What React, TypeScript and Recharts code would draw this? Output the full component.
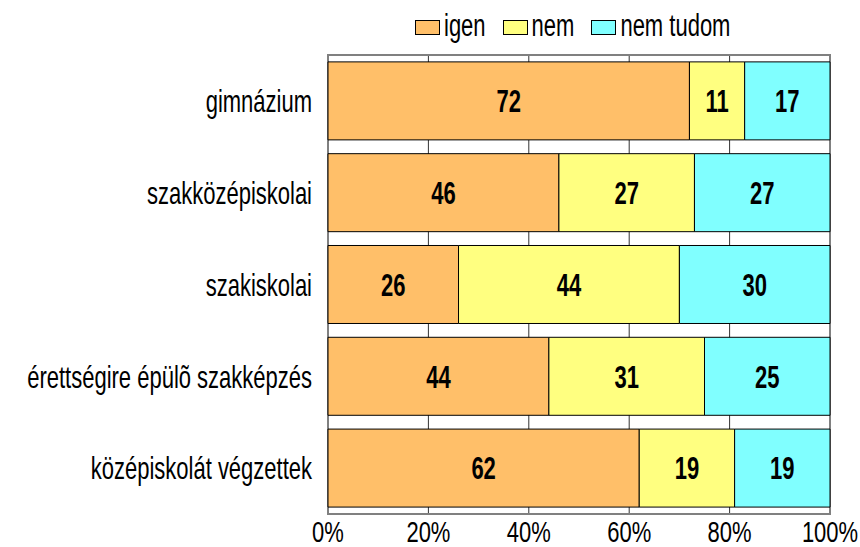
import React from "react";
import { BarChart, Bar, XAxis, YAxis, CartesianGrid, LabelList, ReferenceArea } from "recharts";

const categories = ["gimnázium", "szakközépiskolai", "szakiskolai", "érettségire épülõ szakképzés", "középiskolát végzettek"];
const igen = [72, 46, 26, 44, 62];
const nem = [11, 27, 44, 31, 19];
const nemTudom = [17, 27, 30, 25, 19];
const xTicks = [0, 20, 40, 60, 80, 100];

const seriesNames = ["igen", "nem", "nem tudom"];
const seriesColors = ["#FFBF69", "#FFFF80", "#80FFFF"];

const data = categories.map((c, i) => ({ name: c, igen: igen[i], nem: nem[i], nemTudom: nemTudom[i] }));

const FONT = "'Liberation Sans', Arial, sans-serif";
const SY = 1.4;

const YTick = (props: any) => {
  const { x, y, payload } = props;
  return (
    <g transform={`translate(${x},${y + 1}) scale(1,${SY})`}>
      <text x={0} y={0} textAnchor="end" dominantBaseline="central" fontSize={22} fontFamily={FONT} fill="#000">
        {payload.value}
      </text>
    </g>
  );
};

const XTick = (props: any) => {
  const { x, y, payload } = props;
  return (
    <g transform={`translate(${x},${y + 18}) scale(1,1.3)`}>
      <text x={0} y={0} textAnchor="middle" dominantBaseline="central" fontSize={22} fontFamily={FONT} fill="#000">
        {`${payload.value}%`}
      </text>
    </g>
  );
};

const BarLabel = (props: any) => {
  const { x, y, width, height, value } = props;
  const cx = x + width / 2;
  const cy = y + height / 2;
  return (
    <g transform={`translate(${cx},${cy + 1}) scale(1,${SY})`}>
      <text x={0} y={0} textAnchor="middle" dominantBaseline="central" fontSize={22} fontWeight="bold" fontFamily={FONT} fill="#000">
        {value}
      </text>
    </g>
  );
};

const LegendBox = () => (
  <div style={{ position: "absolute", left: 415, top: 16, display: "flex", alignItems: "center", fontFamily: FONT, fontSize: 22, color: "#000" }}>
    {seriesNames.map((n, i) => (
      <div key={n} style={{ display: "flex", alignItems: "center", marginRight: i < 2 ? 17 : 0 }}>
        <div style={{ width: 23, height: 13, background: seriesColors[i], border: "1px solid #000", marginRight: 4 }} />
        <span style={{ display: "inline-block", lineHeight: "22px", transform: `scaleY(${SY})`, transformOrigin: "50% 60%" }}>{n}</span>
      </div>
    ))}
  </div>
);

export default function App() {
  return (
    <div style={{ position: "absolute", left: 0, top: 0, width: 860, height: 547 }}>
      <BarChart
        width={860}
        height={547}
        data={data}
        layout="vertical"
        margin={{ top: 55, right: 30, bottom: 0, left: 0 }}
        barCategoryGap="7.5%"
      >
        <CartesianGrid horizontal={false} vertical={true} stroke="#333" strokeWidth={1} />
        <XAxis
          type="number"
          domain={[0, 100]}
          ticks={xTicks}
          axisLine={false}
          tickLine={false}
          tickSize={0}
          tickMargin={0}
          height={33}
          tick={<XTick />}
          interval={0}
        />
        <YAxis
          type="category"
          dataKey="name"
          width={328}
          axisLine={false}
          tickLine={false}
          tickSize={0}
          tickMargin={16}
          tick={<YTick />}
          interval={0}
        />
        <ReferenceArea x1={0} x2={100} fill="none" stroke="#808080" strokeWidth={2} ifOverflow="visible" />
        <Bar dataKey="igen" stackId="a" fill={seriesColors[0]} stroke="#000" strokeWidth={1} isAnimationActive={false}>
          <LabelList dataKey="igen" content={<BarLabel />} />
        </Bar>
        <Bar dataKey="nem" stackId="a" fill={seriesColors[1]} stroke="#000" strokeWidth={1} isAnimationActive={false}>
          <LabelList dataKey="nem" content={<BarLabel />} />
        </Bar>
        <Bar dataKey="nemTudom" stackId="a" fill={seriesColors[2]} stroke="#000" strokeWidth={1} isAnimationActive={false}>
          <LabelList dataKey="nemTudom" content={<BarLabel />} />
        </Bar>
      </BarChart>
      <LegendBox />
    </div>
  );
}
